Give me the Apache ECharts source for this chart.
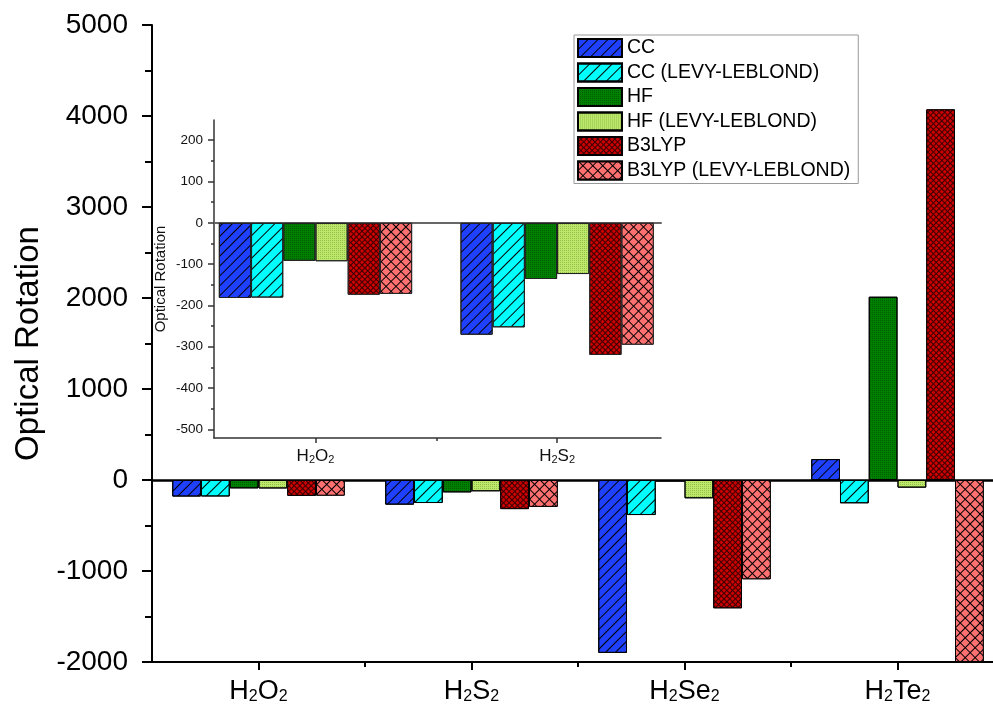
<!DOCTYPE html>
<html>
<head>
<meta charset="utf-8">
<script src="https://cdn.jsdelivr.net/npm/echarts@6/dist/echarts.min.js"></script>
<style>
html,body{margin:0;padding:0;background:#fff;}
#chart{width:993px;height:706px;}
</style>
</head>
<body>
<div id="chart"></div>
<script>
// ---------------- data ----------------
const categories = ['H2O2', 'H2S2', 'H2Se2', 'H2Te2'];
const seriesNames = ['CC', 'CC (LEVY-LEBLOND)', 'HF', 'HF (LEVY-LEBLOND)', 'B3LYP', 'B3LYP (LEVY-LEBLOND)'];
const ccValues      = [-182, -271, -1900, 230];
const ccLLValues    = [-181, -253, -385, -256];
const hfValues      = [-92, -136, -15, 2014];
const hfLLValues    = [-93, -124, -201, -84];
const b3lypValues   = [-174, -320, -1410, 4073];
const b3lypLLValues = [-172, -295, -1091, -2000];
const insetCategories = ['H2O2', 'H2S2'];
const mainYTicks = [-2000, -1000, 0, 1000, 2000, 3000, 4000, 5000];
const insetYTicks = [-500, -400, -300, -200, -100, 0, 100, 200];
const insetYMinorTicks = [-450, -350, -250, -150, -50, 50, 150];

// ---------------- styles ----------------
const FONT = 'Liberation Sans, Arial, sans-serif';
const allValues = [ccValues, ccLLValues, hfValues, hfLLValues, b3lypValues, b3lypLLValues];
const styles = [
  {color: '#2040FF', decal: {symbol: 'rect', symbolSize: 1, color: '#000', dashArrayX: [1, 0], dashArrayY: [1, 6], rotation: -Math.PI / 4}},
  {color: '#00FFFF', decal: {symbol: 'rect', symbolSize: 1, color: '#000', dashArrayX: [1, 0], dashArrayY: [1, 7], rotation: -Math.PI / 4}},
  {color: '#008000', decal: {symbol: 'rect', symbolSize: 1, color: 'rgba(0,50,0,0.45)', dashArrayX: [1, 1], dashArrayY: [1, 1], rotation: 0}},
  {color: '#BDE86A', decal: {symbol: 'rect', symbolSize: 1, color: 'rgba(90,140,40,0.45)', dashArrayX: [1, 1], dashArrayY: [1, 1], rotation: 0}},
  {color: '#3a0000', decal: {symbol: 'rect', symbolSize: 1, color: '#CC0000', dashArrayX: [3, 1], dashArrayY: [3, 1], rotation: Math.PI / 4}},
  {color: '#000000', decal: {symbol: 'rect', symbolSize: 1, color: '#FF7070', dashArrayX: [6, 1], dashArrayY: [6, 1], rotation: Math.PI / 4}}
];

function subLabel(name) {
  return name.split(/(\d+)/).filter(Boolean)
    .map(p => /\d/.test(p) ? '{s|' + p + '}' : '{n|' + p + '}').join('');
}

const series = [];
seriesNames.forEach((nm, k) => {
  series.push({
    name: nm, type: 'bar', xAxisIndex: 0, yAxisIndex: 0,
    barGap: '0%', barCategoryGap: '19%',
    itemStyle: {color: styles[k].color, decal: styles[k].decal, borderColor: '#000', borderWidth: 1},
    emphasis: {disabled: true},
    data: categories.map((c, i) => [i + 1, allValues[k][i]])
  });
});
seriesNames.forEach((nm, k) => {
  series.push({
    name: nm, type: 'bar', xAxisIndex: 3, yAxisIndex: 1,
    barGap: '0%', barCategoryGap: '20%',
    itemStyle: {color: styles[k].color, decal: styles[k].decal, borderColor: '#222', borderWidth: 1},
    emphasis: {disabled: true},
    data: insetCategories.map((c, i) => [i + 1, allValues[k][i]])
  });
});

const chart = echarts.init(document.getElementById('chart'), null, {renderer: 'canvas'});
chart.setOption({
  animation: false,
  backgroundColor: '#fff',
  textStyle: {fontFamily: FONT},
  legend: {
    data: seriesNames, orient: 'vertical', left: 574, top: 35,
    icon: 'rect', itemWidth: 44, itemHeight: 18, itemGap: 4.5,
    padding: [3, 8, 3, 3], borderColor: '#999', borderWidth: 1, backgroundColor: '#fff',
    textStyle: {fontSize: 19.5, color: '#000', fontFamily: FONT},
    selectedMode: false
  },
  grid: [
    {left: 152, top: 25, width: 852, height: 637, outerBoundsMode: 'none', containLabel: false},
    {left: 214, top: 120, width: 447, height: 318, outerBoundsMode: 'none', containLabel: false}
  ],
  xAxis: [
    { // 0 main bottom
      gridIndex: 0, type: 'value', min: 0.5, max: 4.5, position: 'bottom',
      axisLine: {onZero: false, lineStyle: {color: '#000', width: 2}},
      axisTick: {customValues: [1, 2, 3, 4], length: 8, lineStyle: {color: '#000', width: 2}},
      axisLabel: {customValues: [1, 2, 3, 4], margin: 16, color: '#000',
        formatter: v => subLabel(categories[Math.round(v) - 1]),
        rich: {n: {fontSize: 27, fontFamily: FONT, color: '#000'},
               s: {fontSize: 16, fontFamily: FONT, color: '#000', padding: [11, 0, 0, 0]}}},
      splitLine: {show: false}
    },
    { // 1 main minor ticks
      gridIndex: 0, type: 'value', min: 0.5, max: 4.5, position: 'bottom',
      axisLine: {show: false, onZero: false},
      axisTick: {customValues: [1.5, 2.5, 3.5], length: 5, lineStyle: {color: '#000', width: 2}},
      axisLabel: {show: false}, splitLine: {show: false}
    },
    { // 2 main zero line
      gridIndex: 0, type: 'value', min: 0.5, max: 4.5, position: 'bottom',
      axisLine: {show: true, onZero: true, onZeroAxisIndex: 0, lineStyle: {color: '#000', width: 2.5}},
      axisTick: {show: false}, axisLabel: {show: false}, splitLine: {show: false}
    },
    { // 3 inset bottom
      gridIndex: 1, type: 'value', min: 0.58, max: 2.43, position: 'bottom',
      axisLine: {onZero: false, lineStyle: {color: '#333', width: 1.5}},
      axisTick: {customValues: [1, 2], length: 5, lineStyle: {color: '#333', width: 1.5}},
      axisLabel: {customValues: [1, 2], margin: 10, color: '#000',
        formatter: v => subLabel(insetCategories[Math.round(v) - 1]),
        rich: {n: {fontSize: 17, fontFamily: FONT, color: '#111'},
               s: {fontSize: 11, fontFamily: FONT, color: '#111', padding: [6, 0, 0, 0]}}},
      splitLine: {show: false}
    },
    { // 4 inset minor ticks
      gridIndex: 1, type: 'value', min: 0.58, max: 2.43, position: 'bottom',
      axisLine: {show: false, onZero: false},
      axisTick: {customValues: [1.5], length: 3, lineStyle: {color: '#333', width: 1.5}},
      axisLabel: {show: false}, splitLine: {show: false}
    },
    { // 5 inset zero line
      gridIndex: 1, type: 'value', min: 0.58, max: 2.43, position: 'bottom',
      axisLine: {show: true, onZero: true, onZeroAxisIndex: 1, lineStyle: {color: '#666', width: 2}},
      axisTick: {show: false}, axisLabel: {show: false}, splitLine: {show: false}
    }
  ],
  yAxis: [
    { // 0 main
      gridIndex: 0, type: 'value', min: -2000, max: 5000, interval: 1000, position: 'left',
      name: 'Optical Rotation', nameLocation: 'middle', nameGap: 106,
      nameTextStyle: {fontSize: 33, color: '#000', fontFamily: FONT},
      axisLine: {show: true, onZero: false, lineStyle: {color: '#000', width: 2}},
      axisTick: {show: true, length: 10, lineStyle: {color: '#000', width: 2}},
      minorTick: {show: true, splitNumber: 2, length: 7, lineStyle: {color: '#000', width: 2}},
      axisLabel: {fontSize: 28, color: '#000', margin: 24, fontFamily: FONT,
        customValues: mainYTicks, formatter: v => String(v)},
      splitLine: {show: false}
    },
    { // 1 inset
      gridIndex: 1, type: 'value', min: -521, max: 249, position: 'left',
      name: 'Optical Rotation', nameLocation: 'middle', nameGap: 46,
      nameTextStyle: {fontSize: 15, color: '#111', fontFamily: FONT},
      axisLine: {show: true, onZero: false, lineStyle: {color: '#333', width: 1.5}},
      axisTick: {show: true, customValues: insetYTicks, length: 6, lineStyle: {color: '#333', width: 1.5}},
      axisLabel: {customValues: insetYTicks, fontSize: 13.5, color: '#111', margin: 11, fontFamily: FONT,
        formatter: v => String(v)},
      splitLine: {show: false}
    },
    { // 2 inset minor ticks
      gridIndex: 1, type: 'value', min: -521, max: 249, position: 'left',
      axisLine: {show: false, onZero: false},
      axisTick: {show: true, customValues: insetYMinorTicks, length: 3, lineStyle: {color: '#333', width: 1.5}},
      axisLabel: {show: false}, splitLine: {show: false}
    }
  ],
  series: series
});
</script>
</body>
</html>
